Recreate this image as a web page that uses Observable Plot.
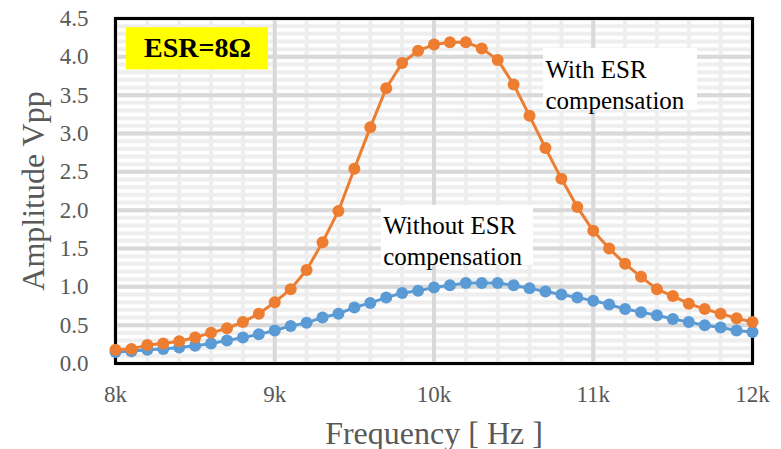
<!DOCTYPE html>
<html>
<head>
<meta charset="utf-8">
<script src="https://cdn.jsdelivr.net/npm/d3@7"></script>
<script src="https://cdn.jsdelivr.net/npm/@observablehq/plot@0.6"></script>
<style>
  html, body { margin: 0; padding: 0; background: #fff; }
  #chart svg { display: block; }
  #chart svg text { font-family: 'Liberation Serif', 'Times New Roman', serif; }
</style>
</head>
<body>
<div id="chart"></div>
<script>
// Frequency in Hz (8 kHz to 12 kHz, step 100 Hz)
const frequency = [
  8000, 8100, 8200, 8300, 8400, 8500, 8600, 8700, 8800, 8900,
  9000, 9100, 9200, 9300, 9400, 9500, 9600, 9700, 9800, 9900,
  10000, 10100, 10200, 10300, 10400, 10500, 10600, 10700, 10800, 10900,
  11000, 11100, 11200, 11300, 11400, 11500, 11600, 11700, 11800, 11900, 12000
];
// Without ESR compensation (blue)
const withoutESR = [
  0.15, 0.16, 0.18, 0.19, 0.21, 0.23, 0.26, 0.30, 0.34, 0.38,
  0.43, 0.49, 0.53, 0.60, 0.65, 0.73, 0.79, 0.86, 0.92, 0.95,
  0.99, 1.02, 1.05, 1.05, 1.05, 1.02, 0.98, 0.94, 0.90, 0.86,
  0.82, 0.77, 0.71, 0.67, 0.63, 0.58, 0.54, 0.50, 0.47, 0.43, 0.41
];
// With ESR compensation (orange)
const withESR = [
  0.18, 0.19, 0.24, 0.26, 0.29, 0.34, 0.40, 0.46, 0.54, 0.65,
  0.80, 0.97, 1.22, 1.58, 1.99, 2.54, 3.08, 3.59, 3.92, 4.08,
  4.16, 4.19, 4.19, 4.11, 3.96, 3.64, 3.23, 2.81, 2.41, 2.04,
  1.73, 1.50, 1.30, 1.13, 0.97, 0.88, 0.78, 0.71, 0.65, 0.59, 0.54
];
const xTicks = [8000, 9000, 10000, 11000, 12000];
const xTickLabels = ["8k", "9k", "10k", "11k", "12k"];
const yTicks = [0, 0.5, 1, 1.5, 2, 2.5, 3, 3.5, 4, 4.5];
const yTickLabels = ["0.0", "0.5", "1.0", "1.5", "2.0", "2.5", "3.0", "3.5", "4.0", "4.5"];
const xMinorTicks = d3.range(8000, 12001, 200);
const yMinorTicks = d3.range(0, 4.501, 0.1);

const xTitle = "Frequency [ Hz ]";
const yTitle = "Amplitude Vpp";

// Annotation boxes (data coordinates)
const labelBoxes = [
  {x1: 8069, x2: 8961, y1: 3.83, y2: 4.38, fill: "#ffff00"},
  {x1: 10688, x2: 11655, y1: 3.30, y2: 4.11, fill: "#ffffff"},
  {x1: 9670, x2: 10625, y1: 1.28, y2: 2.06, fill: "#ffffff"}
];
const esrLabel = [{x: 8515, y: 4.11, text: "ESR=8Ω"}];
const seriesLabels = [
  {x: 10700, y: 4.00, text: "With ESR\ncompensation"},
  {x: 9681, y: 1.97, text: "Without ESR\ncompensation"}
];

const blue = frequency.map((f, i) => ({f, v: withoutESR[i]}));
const orange = frequency.map((f, i) => ({f, v: withESR[i]}));

const font = "'Liberation Serif', 'Times New Roman', serif";

const chart = Plot.plot({
  width: 781,
  height: 449,
  marginLeft: 115,
  marginRight: 29,
  marginTop: 18,
  marginBottom: 86,
  style: {fontFamily: font, background: "#fff"},
  x: {domain: [8000, 12000]},
  y: {domain: [0, 4.5]},
  marks: [
    // minor grid
    Plot.ruleY(yMinorTicks, {y: d => d, stroke: "#eeeeee", strokeWidth: 4}),
    Plot.ruleX(xMinorTicks, {x: d => d, stroke: "#eeeeee", strokeWidth: 4}),
    // major grid
    Plot.ruleY(yTicks, {y: d => d, stroke: "#d9d9d9", strokeWidth: 4}),
    Plot.ruleX(xTicks, {x: d => d, stroke: "#d9d9d9", strokeWidth: 4}),
    // annotation boxes
    Plot.rect(labelBoxes, {x1: "x1", x2: "x2", y1: "y1", y2: "y2", fill: "fill"}),
    // frame
    Plot.frame({stroke: "#000", strokeWidth: 3}),
    // axes
    Plot.axisX({
      ticks: xTicks, tickSize: 0, tickPadding: 22,
      tickFormat: d => xTickLabels[xTicks.indexOf(d)],
      fontSize: 23, fontFamily: font, fill: "#595959", label: null
    }),
    Plot.axisY({
      ticks: yTicks, tickSize: 0, tickPadding: 27,
      tickFormat: d => yTickLabels[yTicks.indexOf(d)],
      fontSize: 23, fontFamily: font, fill: "#595959", label: null
    }),
    // series
    Plot.line(blue, {x: "f", y: "v", stroke: "#5b9bd5", strokeWidth: 3}),
    Plot.dot(blue, {x: "f", y: "v", r: 6, fill: "#5b9bd5", stroke: "none"}),
    Plot.line(orange, {x: "f", y: "v", stroke: "#ed7d31", strokeWidth: 3}),
    Plot.dot(orange, {x: "f", y: "v", r: 6, fill: "#ed7d31", stroke: "none"}),
    // labels
    Plot.text(esrLabel, {x: "x", y: "y", text: "text", fontSize: 28, fontWeight: "bold", fill: "#000", textAnchor: "middle", lineAnchor: "middle"}),
    Plot.text(seriesLabels, {x: "x", y: "y", text: "text", fontSize: 25, fill: "#000", textAnchor: "start", lineAnchor: "top", lineHeight: 1.22}),
    // axis titles
    Plot.text([xTitle], {frameAnchor: "bottom", dy: 80, text: d => d, fontSize: 32, fill: "#595959", textAnchor: "middle", lineAnchor: "bottom"}),
    Plot.text([yTitle], {frameAnchor: "left", dx: -72, rotate: -90, text: d => d, fontSize: 32, fill: "#595959", textAnchor: "middle", lineAnchor: "bottom"})
  ]
});
document.getElementById("chart").appendChild(chart);
</script>
</body>
</html>
